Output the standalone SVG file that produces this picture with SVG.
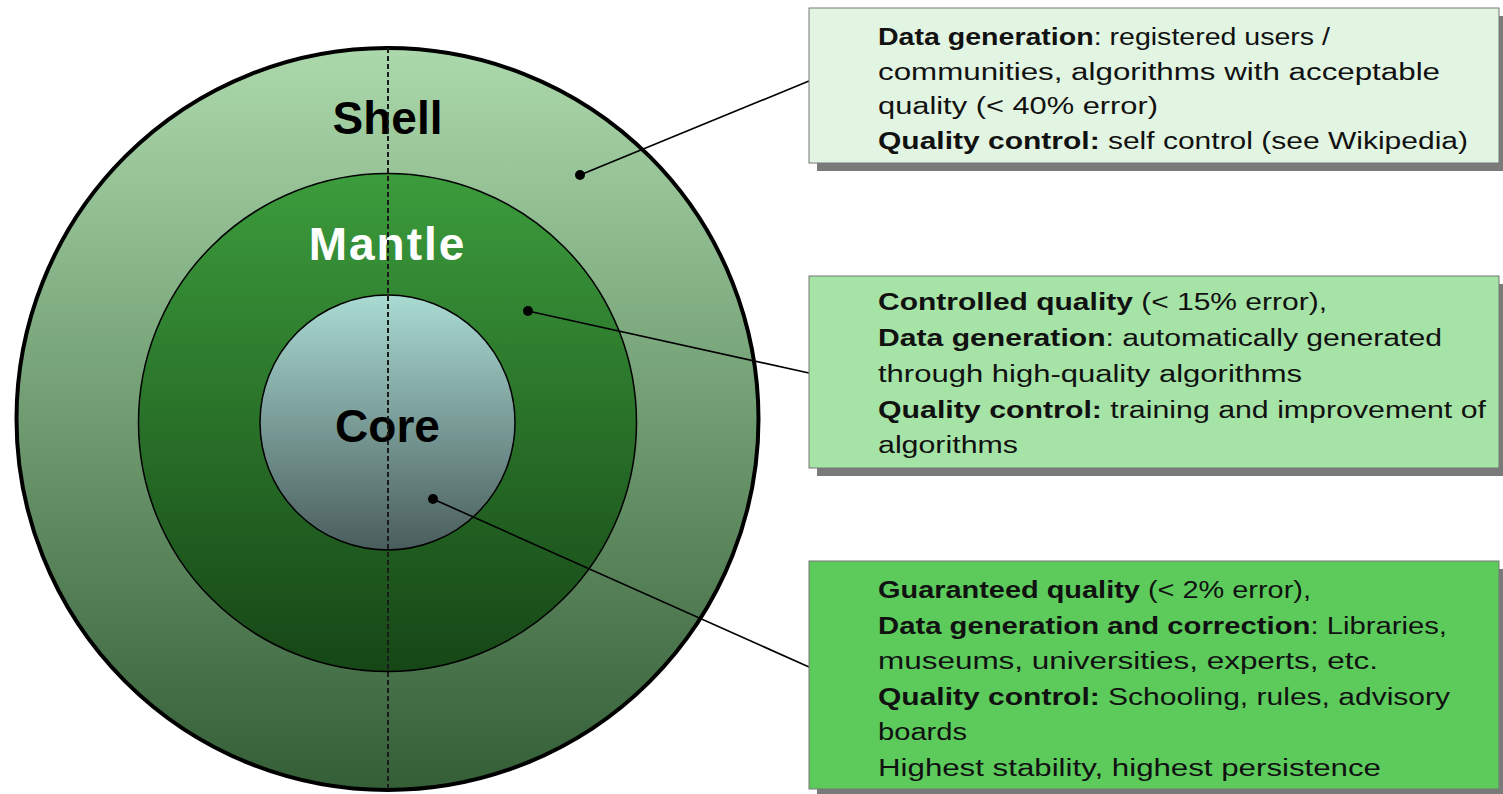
<svg xmlns="http://www.w3.org/2000/svg" width="1503" height="794" viewBox="0 0 1503 794">
<defs>
<linearGradient id="gShell" x1="0" y1="0" x2="0" y2="1">
<stop offset="0" stop-color="#acd9ac"/><stop offset="1" stop-color="#345e36"/>
</linearGradient>
<linearGradient id="gMantle" x1="0" y1="0" x2="0" y2="1">
<stop offset="0" stop-color="#3c9c3c"/><stop offset="1" stop-color="#164616"/>
</linearGradient>
<linearGradient id="gCore" x1="0" y1="0" x2="0" y2="1">
<stop offset="0" stop-color="#a9dbd2"/><stop offset="1" stop-color="#4a5d5d"/>
</linearGradient>
</defs>
<style>
.lbl{font-family:"Liberation Sans",Arial,sans-serif;font-weight:bold;font-size:46px;text-anchor:middle}
.t{font-family:"Liberation Sans",Arial,sans-serif;font-size:23px;fill:#111}
.b{font-weight:bold}
.box{stroke:#777;stroke-width:1}
.shadow{fill:#7a7a7a}
.conn{stroke:#000;stroke-width:1.6;fill:none}
.dot{fill:#000}
</style>
<g id="shell">
<circle cx="387.5" cy="419" r="371" fill="url(#gShell)" stroke="#000" stroke-width="4"/>
<text class="lbl" x="387.5" y="134" fill="#000">Shell</text>
</g>
<g id="mantle">
<circle cx="387.5" cy="422.5" r="249" fill="url(#gMantle)" stroke="#000" stroke-width="1.5"/>
<text class="lbl" x="387.5" y="260" fill="#fff" letter-spacing="2">Mantle</text>
</g>
<g id="core">
<circle cx="387.5" cy="422.5" r="127.5" fill="url(#gCore)" stroke="#000" stroke-width="1.5"/>
<text class="lbl" x="387.5" y="442" fill="#000">Core</text>
</g>
<line x1="388" y1="48" x2="388" y2="790" stroke="#1a1a1a" stroke-width="2" stroke-dasharray="5 3"/>
<g id="connectors">
<line class="conn" x1="580" y1="175" x2="809" y2="81"/>
<line class="conn" x1="528" y1="311" x2="809" y2="373"/>
<line class="conn" x1="433" y1="499" x2="809" y2="667"/>
<circle class="dot" cx="580" cy="175" r="5"/>
<circle class="dot" cx="528" cy="311" r="5"/>
<circle class="dot" cx="433" cy="499" r="5"/>
</g>
<g id="box-shell">
<rect class="shadow" x="817" y="16" width="690" height="155"/>
<rect class="box" x="809" y="8" width="690" height="155" fill="#e2f5e2"/>
<text class="t" x="878" y="45" textLength="452" lengthAdjust="spacingAndGlyphs"><tspan class="b">Data generation</tspan>: registered users /</text>
<text class="t" x="878" y="80" textLength="562" lengthAdjust="spacingAndGlyphs">communities, algorithms with acceptable</text>
<text class="t" x="878" y="114" textLength="280" lengthAdjust="spacingAndGlyphs">quality (&lt; 40% error)</text>
<text class="t" x="878" y="149" textLength="590" lengthAdjust="spacingAndGlyphs"><tspan class="b">Quality control:</tspan> self control (see Wikipedia)</text>
</g>
<g id="box-mantle">
<rect class="shadow" x="817" y="284" width="690" height="192"/>
<rect class="box" x="809" y="276" width="690" height="192" fill="#a6e3a6"/>
<text class="t" x="878" y="310" textLength="449" lengthAdjust="spacingAndGlyphs"><tspan class="b">Controlled quality</tspan> (&lt; 15% error),</text>
<text class="t" x="878" y="346" textLength="564" lengthAdjust="spacingAndGlyphs"><tspan class="b">Data generation</tspan>: automatically generated</text>
<text class="t" x="878" y="382" textLength="424" lengthAdjust="spacingAndGlyphs">through high-quality algorithms</text>
<text class="t" x="878" y="418" textLength="608" lengthAdjust="spacingAndGlyphs"><tspan class="b">Quality control:</tspan> training and improvement of</text>
<text class="t" x="878" y="453" textLength="140" lengthAdjust="spacingAndGlyphs">algorithms</text>
</g>
<g id="box-core">
<rect class="shadow" x="817" y="569" width="690" height="228"/>
<rect class="box" x="809" y="561" width="690" height="228" fill="#5ccb5c"/>
<text class="t" x="878" y="598" textLength="433" lengthAdjust="spacingAndGlyphs"><tspan class="b">Guaranteed quality</tspan> (&lt; 2% error),</text>
<text class="t" x="878" y="634" textLength="569" lengthAdjust="spacingAndGlyphs"><tspan class="b">Data generation and correction</tspan>: Libraries,</text>
<text class="t" x="878" y="669" textLength="500" lengthAdjust="spacingAndGlyphs">museums, universities, experts, etc.</text>
<text class="t" x="878" y="705" textLength="572" lengthAdjust="spacingAndGlyphs"><tspan class="b">Quality control:</tspan> Schooling, rules, advisory</text>
<text class="t" x="878" y="740" textLength="89" lengthAdjust="spacingAndGlyphs">boards</text>
<text class="t" x="878" y="776" textLength="503" lengthAdjust="spacingAndGlyphs">Highest stability, highest persistence</text>
</g>
</svg>
